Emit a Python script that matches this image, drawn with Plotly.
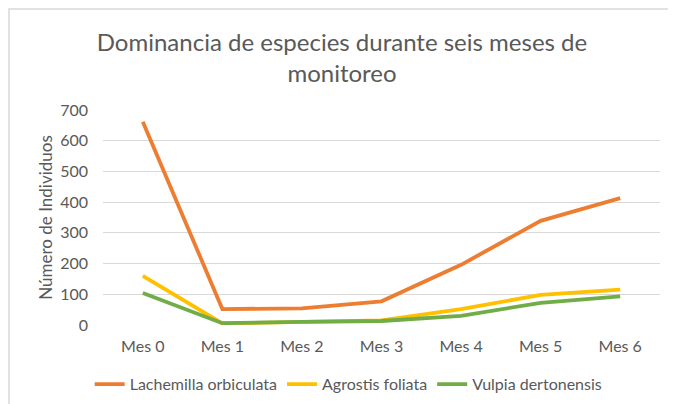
import plotly.graph_objects as go

categories = ["Mes 0", "Mes 1", "Mes 2", "Mes 3", "Mes 4", "Mes 5", "Mes 6"]
lachemilla = [662, 52, 54, 77, 196, 339, 413]
agrostis = [160, 5, 10, 15, 52, 98, 115]
vulpia = [104, 6, 10, 13, 30, 72, 93]

series = [
    ("Lachemilla orbiculata", lachemilla, "#ED7D31"),
    ("Agrostis foliata", agrostis, "#FFC000"),
    ("Vulpia dertonensis", vulpia, "#70AD47"),
]

FONT = "Lato"
TXT = "#595959"

W, H = 668, 396
ML, MR, MT, MB = 95, 16, 102, 79
PW = W - ML - MR
PH = H - MT - MB

fig = go.Figure()
for name, vals, col in series:
    fig.add_trace(go.Scatter(
        x=categories, y=vals, name=name, mode="lines",
        line=dict(color=col, width=3.8),
    ))

fig.update_layout(
    width=W, height=H,
    paper_bgcolor="white", plot_bgcolor="white",
    margin=dict(l=ML, r=MR, t=MT, b=MB, autoexpand=False),
    title=dict(
        text="Dominancia de especies durante seis meses de<br>monitoreo",
        x=0.5, xanchor="center", y=0.892, yanchor="middle",
        font=dict(family=FONT, size=24, color=TXT),
    ),
    font=dict(family=FONT, size=15, color=TXT),
    xaxis=dict(
        type="category", range=[-0.5, 6.5],
        showgrid=False, showline=False, zeroline=False,
        ticks="", tickfont=dict(size=16, color=TXT),
        ticklabelstandoff=10, tickangle=0, automargin=False,
    ),
    yaxis=dict(
        range=[0, 700], dtick=100,
        showgrid=True, gridcolor="#D9D9D9", gridwidth=1,
        zeroline=False, showline=False,
        ticks="", ticklen=0, tickfont=dict(size=16, color=TXT),
        ticklabelstandoff=14, automargin=False,
        title=dict(text="Número de Individuos", font=dict(size=17, color=TXT), standoff=3),
    ),
    legend=dict(
        orientation="h", xref="container", x=0.51, xanchor="center",
        yref="container", y=0.05, yanchor="middle",
        font=dict(size=16, color=TXT), itemwidth=30,
    ),
    showlegend=True,
)

fig.add_shape(
    type="rect", xref="paper", yref="paper",
    x0=-(ML - 1) / PW, x1=1.2, y0=-0.6, y1=1 + (MT - 1) / PH,
    line=dict(color="#D9D9D9", width=1.5), fillcolor="rgba(0,0,0,0)",
    layer="below",
)

fig.write_html("out.html")
